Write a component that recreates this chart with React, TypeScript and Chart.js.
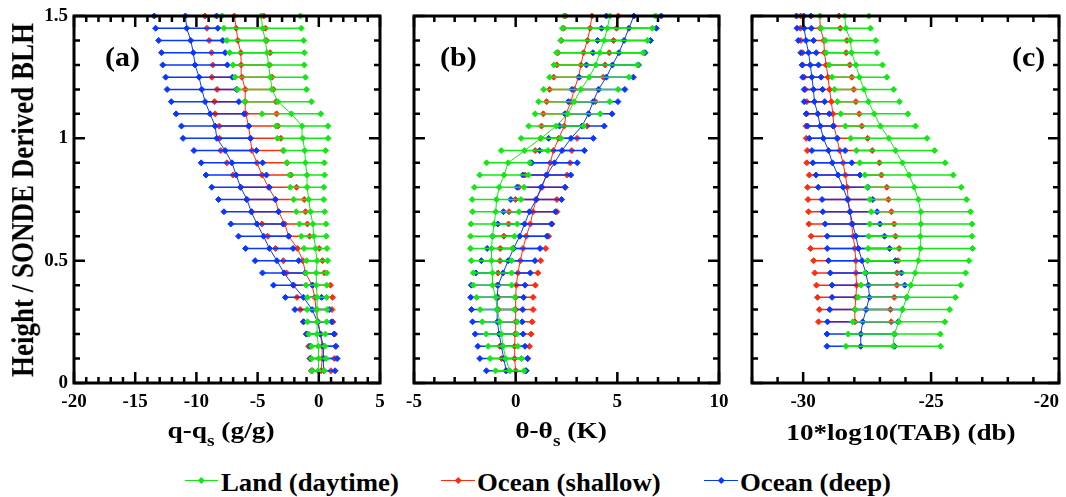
import React, { useEffect, useRef } from "react";
import { Chart, registerables } from "chart.js";

Chart.register(...registerables);

// ---------------- data ----------------
const HEIGHTS = [0.05, 0.1, 0.15, 0.2, 0.25, 0.3, 0.35, 0.4, 0.45, 0.5, 0.55, 0.6, 0.65, 0.7, 0.75, 0.8, 0.85, 0.9, 0.95, 1.0, 1.05, 1.1, 1.15, 1.2, 1.25, 1.3, 1.35, 1.4, 1.45, 1.5];

const SERIES_LABELS = ["Land (daytime)", "Ocean (shallow)", "Ocean (deep)"];

// Panel (a): q - q_s (g/g)
const A_LAND_MEAN = [-0.05, 0.0, -0.05, -0.14, -0.14, -0.14, -0.14, -0.2, -0.2, -0.14, -0.27, -0.41, -0.49, -0.68, -0.82, -0.96, -0.96, -1.09, -1.15, -1.31, -1.37, -2.24, -3.33, -3.83, -3.96, -4.1, -4.23, -4.37, -4.59, -4.7];
const A_LAND_SD = [0.5, 0.6, 0.55, 0.68, 0.78, 0.82, 0.78, 0.85, 0.85, 0.86, 0.94, 1.02, 1.09, 1.16, 1.23, 1.37, 1.43, 1.54, 1.71, 2.07, 2.12, 2.4, 2.73, 2.83, 2.87, 2.91, 3.05, 3.14, 3.16, 3.2];
const A_SHALLOW_MEAN = [0.19, 0.27, 0.27, 0.14, -0.05, -0.22, -0.33, -0.55, -1.09, -1.3, -1.75, -2.46, -2.79, -3.28, -3.55, -4.1, -4.64, -5.05, -5.46, -5.6, -5.74, -5.96, -6.01, -6.01, -6.28, -6.34, -6.37, -6.61, -6.75, -6.9];
const A_SHALLOW_SD = [0.8, 1.0, 1.1, 1.15, 1.2, 1.3, 1.45, 1.5, 1.55, 1.6, 1.78, 1.71, 1.86, 2.19, 2.36, 2.28, 2.36, 2.46, 2.55, 2.5, 2.39, 2.51, 2.51, 2.3, 2.46, 2.32, 2.39, 2.35, 2.39, 2.4];
const A_DEEP_MEAN = [0.4, 0.41, 0.35, 0.12, -0.1, -0.55, -1.25, -2.1, -2.85, -3.42, -4.04, -4.51, -5.05, -5.52, -5.87, -6.39, -6.75, -7.1, -7.65, -8.33, -8.47, -8.88, -9.29, -9.56, -9.78, -10.11, -10.25, -10.46, -10.79, -10.9];
const A_DEEP_SD = [0.93, 1.09, 1.05, 1.13, 1.15, 1.4, 1.48, 1.6, 1.75, 1.78, 1.94, 2.05, 2.14, 2.23, 2.32, 2.35, 2.47, 2.51, 2.55, 2.76, 2.75, 2.78, 2.76, 2.83, 2.73, 2.64, 2.6, 2.62, 2.54, 2.55];

// Panel (b): theta - theta_s (K)
const B_LAND_MEAN = [-0.29, -0.49, -0.62, -0.7, -0.78, -0.91, -0.98, -1.14, -1.14, -1.19, -1.19, -1.14, -1.06, -0.98, -0.94, -0.81, -0.57, -0.37, 0.44, 1.25, 1.99, 2.56, 2.88, 3.21, 3.62, 3.94, 4.14, 4.35, 4.51, 4.63];
const B_LAND_SD = [0.7, 0.77, 0.73, 0.75, 0.86, 0.84, 0.94, 0.94, 0.94, 0.99, 1.03, 1.08, 1.14, 1.14, 1.2, 1.22, 1.2, 1.06, 1.15, 0.98, 1.35, 1.6, 1.75, 1.83, 1.95, 2.05, 2.13, 2.13, 2.21, 2.25];
const B_SHALLOW_MEAN = [0.0, -0.05, -0.05, -0.03, 0.0, 0.0, 0.0, 0.03, 0.11, 0.23, 0.36, 0.52, 0.72, 0.85, 1.01, 1.3, 1.5, 1.7, 1.86, 2.12, 2.39, 2.48, 2.72, 2.88, 3.09, 3.21, 3.34, 3.53, 3.66, 3.75];
const B_SHALLOW_SD = [0.49, 0.65, 0.73, 0.79, 0.81, 0.86, 0.86, 0.94, 0.98, 1.0, 1.12, 1.1, 1.07, 1.18, 1.02, 1.14, 1.03, 0.98, 0.9, 0.9, 1.12, 1.12, 1.2, 1.21, 1.22, 1.19, 1.26, 1.28, 1.3, 1.3];
const B_DEEP_MEAN = [-0.46, -0.59, -0.7, -0.81, -0.9, -0.91, -0.91, -0.86, -0.62, -0.37, -0.1, 0.2, 0.44, 0.68, 1.01, 1.25, 1.53, 1.91, 2.28, 2.72, 3.26, 3.58, 3.81, 4.07, 4.46, 4.76, 5.08, 5.33, 5.57, 5.81];
const B_DEEP_SD = [0.98, 1.17, 1.16, 1.18, 1.22, 1.26, 1.3, 1.32, 1.34, 1.32, 1.3, 1.34, 1.32, 1.28, 1.25, 1.18, 1.18, 1.12, 1.1, 1.1, 1.1, 1.16, 1.22, 1.3, 1.33, 1.28, 1.28, 1.3, 1.35, 1.35];

// Panel (c): 10*log10(TAB) (db)
const C_LAND_MEAN = [null, null, -26.48, -26.44, -26.26, -26.12, -25.95, -25.79, -25.62, -25.5, -25.42, -25.42, -25.4, -25.4, -25.5, -25.66, -25.86, -26.12, -26.39, -26.65, -26.98, -27.22, -27.45, -27.62, -27.8, -27.94, -28.11, -28.15, -28.33, -28.38];
const C_LAND_SD = [null, null, 1.85, 1.8, 1.8, 1.85, 1.9, 1.95, 1.97, 1.98, 2.04, 2.02, 2.0, 1.94, 1.89, 1.84, 1.73, 1.67, 1.53, 1.49, 1.37, 1.31, 1.21, 1.16, 1.07, 1.04, 0.99, 0.99, 0.96, 0.95];
const C_SHALLOW_MEAN = [null, null, null, null, -27.98, -27.98, -27.94, -27.91, -27.94, -27.94, -27.98, -28.04, -28.11, -28.17, -28.24, -28.28, -28.35, -28.44, -28.57, -28.68, -28.8, -28.84, -28.9, -28.97, -29.03, -29.1, -29.17, -29.19, -29.33, -29.35];
const C_SHALLOW_SD = [null, null, null, null, 1.42, 1.39, 1.5, 1.57, 1.61, 1.65, 1.73, 1.65, 1.67, 1.62, 1.57, 1.55, 1.41, 1.42, 1.27, 1.2, 1.09, 1.03, 0.96, 0.95, 0.93, 0.92, 0.85, 0.9, 0.78, 0.75];
const C_DEEP_MEAN = [null, null, -27.75, -27.75, -27.67, -27.54, -27.41, -27.45, -27.55, -27.7, -27.84, -27.94, -28.07, -28.17, -28.27, -28.44, -28.64, -28.86, -29.01, -29.21, -29.33, -29.43, -29.56, -29.6, -29.66, -29.72, -29.79, -29.89, -29.96, -29.98];
const C_DEEP_SD = [null, null, 1.32, 1.32, 1.38, 1.42, 1.46, 1.42, 1.39, 1.31, 1.22, 1.12, 1.07, 1.06, 0.99, 0.97, 0.86, 0.76, 0.65, 0.55, 0.5, 0.45, 0.4, 0.36, 0.36, 0.32, 0.3, 0.3, 0.28, 0.28];

// tick values and labels
const A_XTICKS = [-20, -15, -10, -5, 0, 5];
const A_XLABELS = ["-20", "-15", "-10", "-5", "0", "5"];
const B_XTICKS = [-5, 0, 5, 10];
const B_XLABELS = ["-5", "0", "5", "10"];
const C_XTICKS = [-32, -30, -25, -20];
const C_XLABELS = ["", "-30", "-25", "-20"];
const Y_TICKS = [0, 0.5, 1, 1.5];
const Y_LABELS = ["0", "0.5", "1", "1.5"];

// ---------------- styling ----------------
const SERIF = "'Liberation Serif', 'Times New Roman', Times, serif";
const GREEN = "rgb(20,232,20)";
const RED = "rgb(255,45,15)";
const BLUE = "rgb(10,55,255)";
const COLORS = [GREEN, RED, BLUE];

type Num = number | null;

function seriesDatasets(mean: Num[], sd: Num[], color: string) {
  const err: any[] = [];
  HEIGHTS.forEach((h, i) => {
    const m = mean[i];
    const s = sd[i];
    if (m == null || s == null) return;
    err.push({ x: m - s, y: h }, { x: m + s, y: h }, { x: null, y: h });
  });
  const line = HEIGHTS.map((h, i) => (mean[i] == null ? null : { x: mean[i], y: h })).filter((p) => p);
  const pt = {
    pointStyle: "rectRot",
    pointRadius: 3,
    pointHoverRadius: 3,
    pointBackgroundColor: color,
    pointBorderColor: color,
    pointBorderWidth: 1,
  };
  return [
    { data: err, borderColor: color, borderWidth: 1.5, spanGaps: false, clip: false, tension: 0, fill: false, ...pt },
    { data: line, borderColor: color, borderWidth: 1, spanGaps: false, clip: false, tension: 0, fill: false, ...pt },
  ];
}

const framePlugin = {
  id: "frameTicks",
  afterDatasetsDraw(chart: any, _args: any, opts: any) {
    const { ctx, chartArea: a, scales } = chart;
    const xs = scales.x;
    const ys = scales.y;
    const minorLen = 6;
    const majorLen = 11;
    const each = (min: number, max: number, step: number, major: number, fn: (v: number, len: number) => void) => {
      const n0 = Math.ceil(min / step - 1e-6);
      const n1 = Math.floor(max / step + 1e-6);
      for (let n = n0; n <= n1; n++) {
        const v = n * step;
        const isMajor = Math.abs(v / major - Math.round(v / major)) < 1e-6;
        fn(v, isMajor ? majorLen : minorLen);
      }
    };
    ctx.save();
    ctx.strokeStyle = "#000";
    ctx.lineWidth = 2.5;
    ctx.beginPath();
    each(xs.min, xs.max, opts.xMinor, opts.xMajor, (v, len) => {
      const px = xs.getPixelForValue(v);
      ctx.moveTo(px, a.bottom);
      ctx.lineTo(px, a.bottom - len);
      ctx.moveTo(px, a.top);
      ctx.lineTo(px, a.top + len);
    });
    each(ys.min, ys.max, opts.yMinor, opts.yMajor, (v, len) => {
      const py = ys.getPixelForValue(v);
      ctx.moveTo(a.left, py);
      ctx.lineTo(a.left + len, py);
      ctx.moveTo(a.right, py);
      ctx.lineTo(a.right - len, py);
    });
    ctx.stroke();
    ctx.lineWidth = 3;
    ctx.strokeRect(a.left, a.top, a.right - a.left, a.bottom - a.top);
    ctx.restore();
  },
};

type PanelCfg = {
  key: string;
  left: number;
  width: number;
  padL: number;
  padR: number;
  showY: boolean;
  xMin: number;
  xMax: number;
  xTicks: number[];
  xLabels: string[];
  align: string;
  means: Num[][];
  sds: Num[][];
};

const PANELS: PanelCfg[] = [
  { key: "a", left: 0, width: 392, padL: 0, padR: 12, showY: true, xMin: -20, xMax: 5, xTicks: A_XTICKS, xLabels: A_XLABELS, align: "center", means: [A_LAND_MEAN, A_SHALLOW_MEAN, A_DEEP_MEAN], sds: [A_LAND_SD, A_SHALLOW_SD, A_DEEP_SD] },
  { key: "b", left: 392, width: 340, padL: 22, padR: 13, showY: false, xMin: -5, xMax: 10, xTicks: B_XTICKS, xLabels: B_XLABELS, align: "center", means: [B_LAND_MEAN, B_SHALLOW_MEAN, B_DEEP_MEAN], sds: [B_LAND_SD, B_SHALLOW_SD, B_DEEP_SD] },
  { key: "c", left: 732, width: 334, padL: 20, padR: 7, showY: false, xMin: -32, xMax: -20, xTicks: C_XTICKS, xLabels: C_XLABELS, align: "inner", means: [C_LAND_MEAN, C_SHALLOW_MEAN, C_DEEP_MEAN], sds: [C_LAND_SD, C_SHALLOW_SD, C_DEEP_SD] },
];

const CANVAS_H = 420;
const TICK_FONT = { family: SERIF, size: 19, weight: "bold" as const };

function Panel({ cfg }: { cfg: PanelCfg }) {
  const ref = useRef<HTMLCanvasElement>(null);
  useEffect(() => {
    if (!ref.current) return;
    // draw order: land on top, then deep, then shallow at bottom
    const land = seriesDatasets(cfg.means[0], cfg.sds[0], COLORS[0]);
    const shallow = seriesDatasets(cfg.means[1], cfg.sds[1], COLORS[1]);
    const deep = seriesDatasets(cfg.means[2], cfg.sds[2], COLORS[2]);
    const chart = new Chart(ref.current, {
      type: "line",
      data: { datasets: [...land, ...deep, ...shallow] as any },
      plugins: [framePlugin as any],
      options: {
        animation: false,
        responsive: false,
        maintainAspectRatio: false,
        events: [],
        layout: { padding: { left: cfg.padL, right: cfg.padR, top: 16, bottom: 0 } },
        plugins: {
          legend: { display: false },
          tooltip: { enabled: false },
          frameTicks: { xMinor: 1, xMajor: 5, yMinor: 0.1, yMajor: 0.5 },
        } as any,
        scales: {
          x: {
            type: "linear",
            min: cfg.xMin,
            max: cfg.xMax,
            grid: { display: false, drawTicks: false },
            border: { display: false },
            afterBuildTicks: (s: any) => {
              s.ticks = cfg.xTicks.map((v) => ({ value: v }));
            },
            afterFit: (s: any) => {
              s.height = CANVAS_H - 383;
              s.paddingLeft = 0;
              s.paddingRight = 0;
            },
            ticks: {
              font: TICK_FONT,
              color: "#000",
              padding: 8,
              maxRotation: 0,
              autoSkip: false,
              align: cfg.align as any,
              callback: (v: any) => {
                const i = cfg.xTicks.indexOf(Number(v));
                return i >= 0 ? cfg.xLabels[i] : "";
              },
            },
          },
          y: {
            type: "linear",
            min: 0,
            max: 1.5,
            display: cfg.showY,
            grid: { display: false, drawTicks: false },
            border: { display: false },
            afterBuildTicks: (s: any) => {
              s.ticks = Y_TICKS.map((v) => ({ value: v }));
            },
            afterFit: (s: any) => {
              if (cfg.showY) s.width = 74;
              s.paddingTop = 0;
              s.paddingBottom = 0;
            },
            ticks: {
              font: TICK_FONT,
              color: "#000",
              padding: 6,
              autoSkip: false,
              callback: (v: any) => {
                const i = Y_TICKS.indexOf(Number(v));
                return i >= 0 ? Y_LABELS[i] : "";
              },
            },
          },
        },
      } as any,
    });
    return () => chart.destroy();
  }, [cfg]);
  return (
    <canvas
      ref={ref}
      width={cfg.width}
      height={CANVAS_H}
      style={{ position: "absolute", left: cfg.left, top: 0, width: cfg.width, height: CANVAS_H }}
    />
  );
}

const textBase: React.CSSProperties = {
  position: "absolute",
  fontFamily: SERIF,
  fontWeight: "bold",
  lineHeight: 1,
  whiteSpace: "nowrap",
  color: "#000",
};

const LEGEND_LAYOUT = [
  { lineLeft: 185, lineWidth: 33, textLeft: 221 },
  { lineLeft: 441, lineWidth: 34, textLeft: 477 },
  { lineLeft: 704, lineWidth: 34, textLeft: 740 },
];

export default function App() {
  return (
    <div style={{ position: "absolute", left: 0, top: 0, width: 1066, height: 497, overflow: "hidden", background: "#fff" }}>
      {PANELS.map((p) => (
        <Panel key={p.key} cfg={p} />
      ))}

      {/* y axis title */}
      <div
        style={{
          ...textBase,
          fontSize: 27,
          left: 22.5,
          top: 200,
          transform: "translate(-50%, -50%) rotate(-90deg) scaleY(1.15)",
        }}
      >
        Height / SONDE Derived BLH
      </div>

      {/* panel labels */}
      {[
        { t: "(a)", left: 105 },
        { t: "(b)", left: 440 },
        { t: "(c)", left: 1012 },
      ].map((l) => (
        <div key={l.t} style={{ ...textBase, fontSize: 28, left: l.left, top: 43, transform: "scaleX(1.07)", transformOrigin: "left top" }}>
          {l.t}
        </div>
      ))}

      {/* x axis titles */}
      <div style={{ ...textBase, fontSize: 24, left: 221, top: 418, transform: "translateX(-50%) scaleX(1.14)" }}>
        q-q<span style={{ fontSize: 17, position: "relative", top: 8 }}>s</span> (g/g)
      </div>
      <div style={{ ...textBase, fontSize: 24, left: 561, top: 418, transform: "translateX(-50%) scaleX(1.14)" }}>
        θ-θ<span style={{ fontSize: 17, position: "relative", top: 8 }}>s</span> (K)
      </div>
      <div style={{ ...textBase, fontSize: 24, left: 901, top: 420, transform: "translateX(-50%) scaleX(1.13)" }}>
        10*log10(TAB) (db)
      </div>

      {/* legend */}
      {SERIES_LABELS.map((label, i) => (
        <React.Fragment key={label}>
          <div
            style={{
              position: "absolute",
              left: LEGEND_LAYOUT[i].lineLeft,
              top: 479.5,
              width: LEGEND_LAYOUT[i].lineWidth,
              height: 1.6,
              background: COLORS[i],
            }}
          />
          <div
            style={{
              position: "absolute",
              left: LEGEND_LAYOUT[i].lineLeft + LEGEND_LAYOUT[i].lineWidth / 2 - 2.3,
              top: 480.3 - 2.3,
              width: 4.6,
              height: 4.6,
              background: COLORS[i],
              transform: "rotate(45deg)",
            }}
          />
          <div
            style={{
              ...textBase,
              fontSize: 26,
              left: LEGEND_LAYOUT[i].textLeft,
              top: 470,
              transform: "scaleX(1.03)",
              transformOrigin: "left top",
            }}
          >
            {label}
          </div>
        </React.Fragment>
      ))}
    </div>
  );
}
